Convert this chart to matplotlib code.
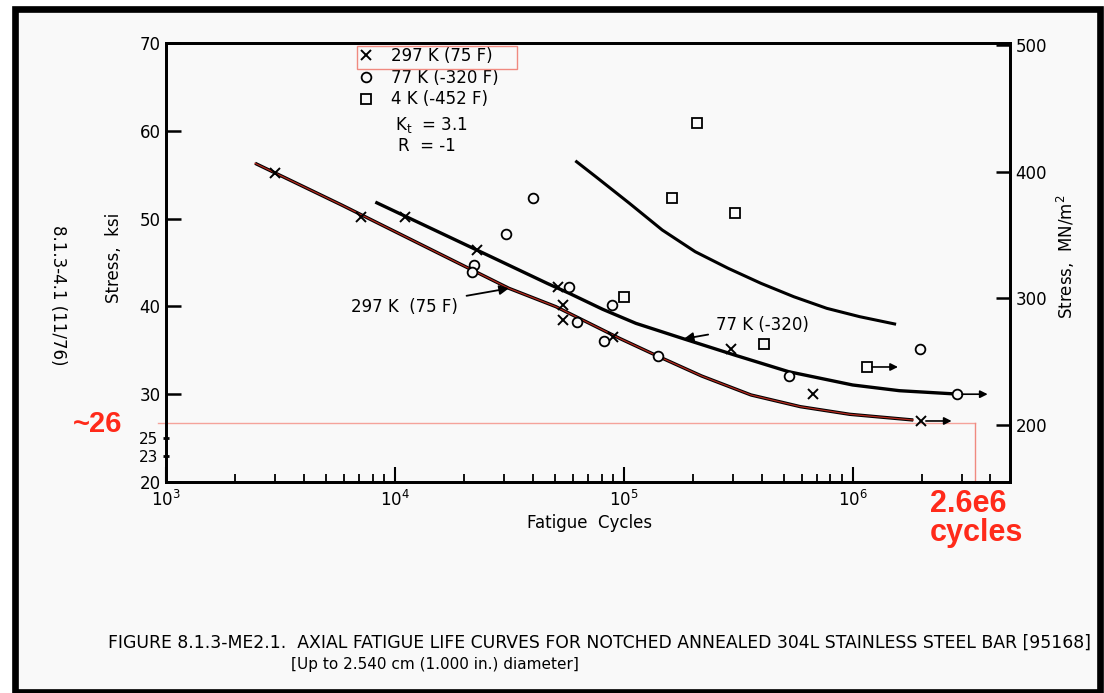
import numpy as np
import matplotlib
matplotlib.use("Agg")
import matplotlib.pyplot as plt
from matplotlib.patches import Rectangle

plt.rcParams['font.family'] = ['DejaVu Sans']
plt.rcParams['mathtext.default'] = 'regular'

# test points, cycles and stress (ksi)
n_297 = [3000, 7080, 11100, 22900, 51400, 54100, 54100, 89500, 295000, 668000]
s_297 = [55.2, 50.15, 50.2, 46.4, 42.2, 40.2, 38.4, 36.5, 35.15, 30.0]
n_77 = [22100, 21800, 30500, 40100, 57400, 62400, 81600, 88900, 140600, 526000, 1970000]
s_77 = [44.7, 43.9, 48.3, 52.4, 42.2, 38.2, 36.1, 40.15, 34.3, 32.1, 35.1]
n_4 = [100000, 162000, 208000, 307000, 410000]
s_4 = [41.1, 52.4, 60.85, 50.6, 35.7]

# run-outs (did not fail)
run_297 = (1990000, 26.95)
run_77 = (2860000, 30.0)
run_4 = (1160000, 33.1)

# fitted curves
c297_n = [2450, 5850, 31500, 50500, 95700, 142500, 219000, 360000, 591000, 971000, 1840000]
c297_s = [56.3, 51.55, 42.06, 39.97, 36.37, 34.27, 32.07, 29.91, 28.58, 27.71, 27.06]
c77_n = [8340, 22900, 46500, 57800, 80900, 113000, 185700, 305000, 526000, 1000000,
         1600000, 2840000]
c77_s = [51.8, 46.4, 42.6, 41.49, 39.67, 38.07, 36.25, 34.46, 32.56, 31.05, 30.4, 30.02]
c4_n = [62200, 75500, 105900, 147300, 205200, 285800, 397500, 553600, 771000, 1073000, 1525000]
c4_s = [56.48, 54.77, 51.74, 48.7, 46.23, 44.34, 42.63, 41.1, 39.78, 38.83, 38.0]

BG = '#f9f9f9'
W, H = 1104, 693

def fx(x):
    return x / W

def fy(y):
    return 1 - y / H

fig = plt.figure(figsize=(11.04, 6.93), dpi=100)
fig.patch.set_facecolor('white')
fig.patches.append(Rectangle((fx(15), fy(691.5)), fx(1099.5) - fx(15), fy(8.5) - fy(691.5),
                             transform=fig.transFigure, facecolor=BG, edgecolor='black',
                             lw=4.8, zorder=-10))

ax = fig.add_axes([fx(166), fy(482), fx(1010) - fx(166), fy(43) - fy(482)])
ax.set_facecolor(BG)
ax.set_xscale('log')
ax.set_xlim(1e3, 4.87e6)
ax.set_ylim(20, 70)
for sp in ax.spines.values():
    sp.set_linewidth(2.0)

ax.set_yticks([20, 30, 40, 50, 60, 70])
ax.tick_params(axis='y', which='major', direction='in', length=11, width=1.8, labelsize=12, pad=4)
ax.set_yticks([23, 25], minor=True)
ax.set_yticklabels(['23', '25'], minor=True)
ax.tick_params(axis='y', which='minor', direction='inout', length=5, width=2, labelsize=11, pad=3)
ax.set_xticks([1e3, 1e4, 1e5, 1e6])
ax.tick_params(axis='x', which='major', direction='in', length=11, width=1.5, labelsize=12, pad=6)
ax.tick_params(axis='x', which='minor', direction='in', length=6, width=1.3)

ax2 = ax.twinx()
ax2.set_ylim(155, 501.5)
ax2.set_yticks([200, 300, 400, 500])
ax2.tick_params(axis='y', direction='in', length=10, width=1.8, labelsize=12, pad=4)
for sp in ax2.spines.values():
    sp.set_linewidth(2.0)

# curves
ax.plot(c297_n, c297_s, color='black', lw=2.4, solid_capstyle='butt', zorder=2)
ax.plot(c297_n, c297_s, color='#b52a1f', lw=0.9, zorder=3)
ax.plot(c77_n, c77_s, color='black', lw=2.4, zorder=2)
ax.plot(c4_n, c4_s, color='black', lw=2.2, zorder=2)

# points
ax.plot(n_297 + [run_297[0]], s_297 + [run_297[1]], 'x', color='black', ms=7, mew=1.4,
        zorder=4, label='297 K (75 F)')
ax.plot(n_77 + [run_77[0]], s_77 + [run_77[1]], 'o', mfc=BG, mec='black', ms=7, mew=1.3,
        zorder=4, label='77 K (-320 F)')
ax.plot(n_4 + [run_4[0]], s_4 + [run_4[1]], 's', mfc=BG, mec='black', ms=6.5, mew=1.3,
        zorder=4, label='4 K (-452 F)')

for n, s in [run_297, run_77, run_4]:
    ax.annotate('', xy=(n * 1.36, s), xytext=(n * 1.05, s),
                arrowprops=dict(arrowstyle='-|>', color='black', lw=1.2,
                                mutation_scale=11, shrinkA=0, shrinkB=0), zorder=4)

ax.annotate('297 K  (75 F)', xy=(31500, 42.06), xytext=(6460, 39.97),
            fontsize=12, ha='left', va='center',
            arrowprops=dict(arrowstyle='-|>', color='black', lw=1.3, mutation_scale=14,
                            shrinkA=4, shrinkB=0))
ax.annotate('77 K (-320)', xy=(183000, 36.3), xytext=(254000, 37.9),
            fontsize=12, ha='left', va='center',
            arrowprops=dict(arrowstyle='-|>', color='black', lw=1.3, mutation_scale=14,
                            shrinkA=4, shrinkB=0))

leg = ax.legend(loc='upper left', bbox_to_anchor=(fx(358), fy(47)), bbox_transform=fig.transFigure,
                frameon=False, fontsize=12, handlelength=1.0, handletextpad=1.0,
                labelspacing=0.22, borderpad=0, borderaxespad=0)
fig.patches.append(Rectangle((fx(357), fy(69)), fx(517) - fx(357), fy(46) - fy(69),
                             transform=fig.transFigure, fill=False, edgecolor='#f08a80', lw=1.0,
                             zorder=5))

fig.text(fx(395), fy(125), '$K_t$  = 3.1', fontsize=12, ha='left', va='center')
fig.text(fx(398), fy(146), 'R  = -1', fontsize=12, ha='left', va='center')

fig.text(fx(114), fy(258), 'Stress,  ksi', rotation=90, fontsize=12, ha='center', va='center')
fig.text(fx(58), fy(295), '8.1.3-4.1 (11/76)', rotation=-90, fontsize=12, ha='center', va='center')
fig.text(fx(1066), fy(257), 'Stress,  MN/m$^2$', rotation=90, fontsize=12, ha='center', va='center')
fig.text(fx(590), fy(523), 'Fatigue  Cycles', fontsize=12, ha='center', va='center')

fig.text(fx(108), fy(643), 'FIGURE 8.1.3-ME2.1.  AXIAL FATIGUE LIFE CURVES FOR NOTCHED ANNEALED 304L '
         'STAINLESS STEEL BAR [95168]', fontsize=12.4, ha='left', va='center')
fig.text(fx(291), fy(664), '[Up to 2.540 cm (1.000 in.) diameter]', fontsize=11,
         ha='left', va='center')

# red markup
red = '#ff2a1a'
ax.plot([1e3 * 0.92, 3.44e6], [26.7, 26.7], color='#f5a39b', lw=1.0, clip_on=False, zorder=1)
ax.plot([3.44e6, 3.44e6], [20, 26.7], color='#f08a80', lw=1.0, zorder=1)
fig.text(fx(73), fy(431.7), '~26', color=red, fontsize=21, fontweight='bold',
         family='Liberation Sans', ha='left', va='baseline')
fig.text(fx(930), fy(511.7), '2.6e6', color=red, fontsize=22, fontweight='bold',
         family='Liberation Sans', ha='left', va='baseline')
fig.text(fx(930), fy(541), 'cycles', color=red, fontsize=22, fontweight='bold',
         family='Liberation Sans', ha='left', va='baseline')

fig.savefig('out.png', dpi=100, facecolor=fig.get_facecolor())
